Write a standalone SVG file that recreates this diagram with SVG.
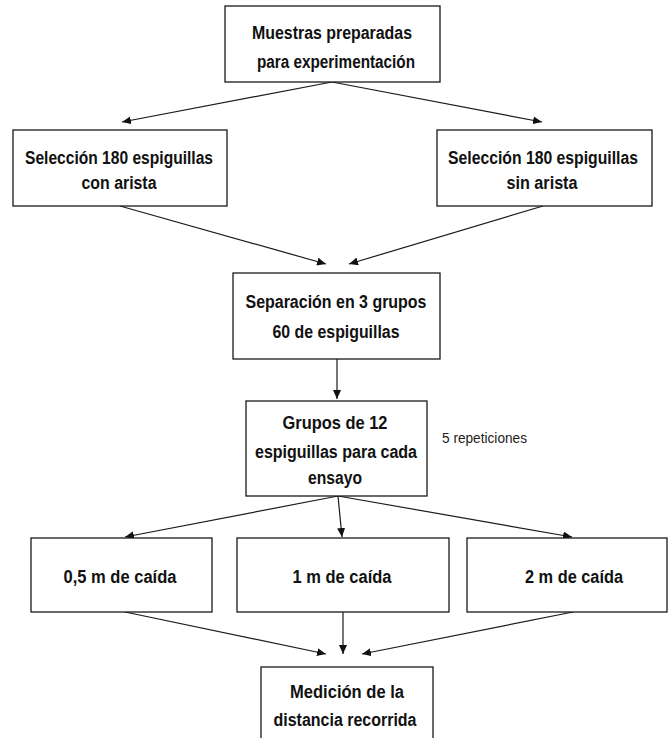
<svg xmlns="http://www.w3.org/2000/svg" width="669" height="738" viewBox="0 0 669 738">
<style>
.box{fill:#fff;stroke:#1a1a1a;stroke-width:1.3}
.t{font-family:"Liberation Sans",Arial,sans-serif;font-weight:bold;font-size:18px;fill:#111;text-anchor:middle}
.n{font-family:"Liberation Sans",Arial,sans-serif;font-size:14px;fill:#222}
.c{stroke:#1a1a1a;stroke-width:1.2;fill:none;marker-end:url(#ah)}
</style>
<defs>
<marker id="ah" markerUnits="userSpaceOnUse" markerWidth="9" markerHeight="8" refX="9" refY="4" orient="auto">
<path d="M0,0 L9,4 L0,8 z" fill="#111"/>
</marker>
</defs>
<rect width="669" height="738" fill="#fff"/>
<g id="connectors">
<line class="c" x1="332" y1="82" x2="122" y2="122"/>
<line class="c" x1="332" y1="82" x2="542" y2="122"/>
<line class="c" x1="120" y1="206" x2="326" y2="264"/>
<line class="c" x1="543" y1="206" x2="349" y2="264"/>
<line class="c" x1="337" y1="359" x2="337" y2="399"/>
<line class="c" x1="338" y1="496" x2="125" y2="537"/>
<line class="c" x1="338" y1="496" x2="342" y2="537"/>
<line class="c" x1="338" y1="496" x2="572" y2="537"/>
<line class="c" x1="125" y1="612" x2="326" y2="654"/>
<line class="c" x1="343" y1="612" x2="343" y2="654"/>
<line class="c" x1="573" y1="612" x2="362" y2="654"/>
</g>
<g id="n1">
<rect class="box" x="225" y="6" width="215" height="76"/>
<text class="t" x="332" y="39" textLength="160" lengthAdjust="spacingAndGlyphs">Muestras preparadas</text>
<text class="t" x="336" y="68" textLength="158" lengthAdjust="spacingAndGlyphs">para experimentación</text>
</g>
<g id="n2">
<rect class="box" x="13" y="130" width="214" height="76"/>
<text class="t" x="119" y="164" textLength="188" lengthAdjust="spacingAndGlyphs">Selección 180 espiguillas</text>
<text class="t" x="119" y="189" textLength="75" lengthAdjust="spacingAndGlyphs">con arista</text>
</g>
<g id="n3">
<rect class="box" x="437" y="130" width="215" height="76"/>
<text class="t" x="543" y="164" textLength="190" lengthAdjust="spacingAndGlyphs">Selección 180 espiguillas</text>
<text class="t" x="542" y="189" textLength="71" lengthAdjust="spacingAndGlyphs">sin arista</text>
</g>
<g id="n4">
<rect class="box" x="233" y="273" width="207" height="86"/>
<text class="t" x="336" y="308" textLength="181" lengthAdjust="spacingAndGlyphs">Separación  en 3 grupos</text>
<text class="t" x="336" y="338" textLength="127" lengthAdjust="spacingAndGlyphs">60 de espiguillas</text>
</g>
<g id="n5">
<rect class="box" x="246" y="401" width="181" height="95"/>
<text class="t" x="335" y="429" textLength="105" lengthAdjust="spacingAndGlyphs">Grupos  de 12</text>
<text class="t" x="336" y="458" textLength="162" lengthAdjust="spacingAndGlyphs">espiguillas  para cada</text>
<text class="t" x="335" y="484" textLength="54" lengthAdjust="spacingAndGlyphs">ensayo</text>
</g>
<g id="note">
<text class="n" x="442" y="443" textLength="85" lengthAdjust="spacingAndGlyphs">5 repeticiones</text>
</g>
<g id="n6">
<rect class="box" x="31" y="538" width="181" height="74"/>
<text class="t" x="120" y="583" textLength="113" lengthAdjust="spacingAndGlyphs">0,5 m de caída</text>
</g>
<g id="n7">
<rect class="box" x="237" y="538" width="212" height="74"/>
<text class="t" x="342" y="583" textLength="99" lengthAdjust="spacingAndGlyphs">1 m de caída</text>
</g>
<g id="n8">
<rect class="box" x="467" y="538" width="200" height="74"/>
<text class="t" x="574" y="583" textLength="98" lengthAdjust="spacingAndGlyphs">2 m de caída</text>
</g>
<g id="n9">
<rect class="box" x="261" y="667" width="172" height="80"/>
<text class="t" x="347" y="698" textLength="114" lengthAdjust="spacingAndGlyphs">Medición  de la</text>
<text class="t" x="345" y="726" textLength="143" lengthAdjust="spacingAndGlyphs">distancia  recorrida</text>
</g>
</svg>
